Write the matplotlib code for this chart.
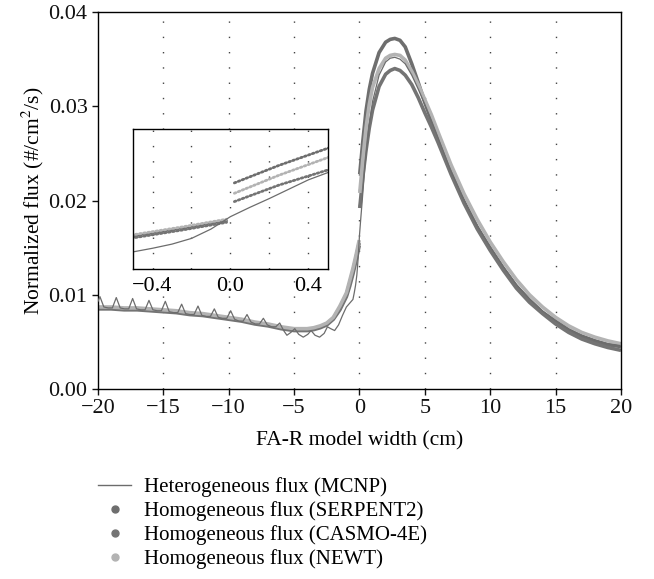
import matplotlib
matplotlib.use('Agg')
import matplotlib.pyplot as plt
from matplotlib.lines import Line2D
from matplotlib.ticker import FormatStrFormatter

plt.rcParams['font.family'] = ['Liberation Serif', 'DejaVu Serif']
plt.rcParams['mathtext.fontset'] = 'stix'

# homogeneous fluxes, fuel side (x < 0)
x_hom_left = [-20, -19, -18, -17, -16, -15, -14, -13, -12, -11, -10, -9, -8, -7, -6, -5,
              -4.5, -4, -3.5, -3, -2.5, -2, -1.5, -1, -0.75, -0.5, -0.25, -0.02]
serpent_left = [.0086, .0086, .0085, .0085, .0084, .0083, .0082, .0080, .0079, .0077, .0075, .0073, .0070, .0068,
                .0065, .0063, .0063, .0063, .0064, .0066, .0069, .0075, .0086, .0100, .0112, .0125, .0140, .0155]
casmo_left = [.0085, .0085, .0084, .0084, .0083, .0082, .0081, .0079, .0078, .0076, .0074, .0072, .0069, .0067,
              .0064, .0062, .0062, .0062, .0063, .0065, .0068, .0074, .0084, .0098, .0109, .0122, .0137, .0152]
newt_left = [.0087, .0087, .0086, .0086, .0085, .0084, .0083, .0081, .0080, .0078, .0076, .0074, .0071, .0069,
             .0066, .0064, .0064, .0064, .0065, .0067, .0070, .0076, .0088, .0102, .0115, .0128, .0143, .0158]

# homogeneous fluxes, reflector side (x > 0)
x_hom_right = [0.02, 0.25, 0.5, 0.75, 1, 1.5, 2, 2.35, 2.7, 3.1, 3.5, 4, 4.5, 5, 5.5, 6,
               7, 8, 9, 10, 11, 12, 13, 14, 15, 16, 17, 18, 19, 20]
serpent_right = [.0228, .0262, .0295, .0318, .0335, .0357, .0368, .0371, .0372, .0370, .0363, .0345, .0325,
                 .0304, .0285, .0267, .0231, .0199, .0172, .0149, .0128, .0109, .0094, .0081, .0071, .0062,
                 .0056, .0051, .0047, .0045]
casmo_right = [.0192, .0224, .0253, .0277, .0296, .0321, .0334, .0338, .0340, .0338, .0333, .0323, .0309,
               .0293, .0278, .0262, .0228, .0197, .0170, .0147, .0126, .0107, .0092, .0080, .0069, .0060,
               .0053, .0048, .0044, .0041]
newt_right = [.0208, .0243, .0277, .0302, .0320, .0340, .0351, .0354, .0355, .0354, .0349, .0337, .0323,
              .0307, .0291, .0273, .0238, .0207, .0180, .0156, .0135, .0116, .0100, .0087, .0076, .0067,
              .0060, .0055, .0051, .0048]

# heterogeneous MCNP flux
mcnp_x = [-20.0, -19.85, -19.55, -19.22, -18.9, -18.6, -18.3, -17.97, -17.65, -17.35, -17.05, -16.72, -16.4,
          -16.1, -15.8, -15.47, -15.15, -14.85, -14.55, -14.22, -13.9, -13.6, -13.3, -12.97, -12.65, -12.35,
          -12.05, -11.72, -11.4, -11.1, -10.8, -10.47, -10.15, -9.85, -9.55, -9.22, -8.9, -8.6, -8.3, -7.97,
          -7.65, -7.35, -7.05, -6.72, -6.4, -6.1, -5.8, -5.55, -5.25, -4.95, -4.65, -4.3, -3.95, -3.7, -3.4,
          -3.05, -2.7, -2.45, -2.2, -1.9, -1.6, -1.3, -1.0, -0.75, -0.5, -0.4, -0.3, -0.2, -0.1, 0.0, 0.1,
          0.2, 0.3, 0.4, 0.5, 0.75, 1.0, 1.5, 2.0, 2.35, 2.7, 3.1, 3.5, 4, 4.5, 5, 5.5, 6, 7, 8, 9, 10, 11,
          12, 13, 14, 15, 16, 17, 18, 19, 20]
mcnp_flux = [.0093, .0098, .0087, .0086, .0086, .0097, .0086, .0085, .0085, .0096, .0085, .0084, .0084,
             .0094, .0084, .0083, .0083, .0093, .0082, .0081, .0081, .0090, .0080, .0079, .0079, .0088,
             .0078, .0077, .0077, .0085, .0076, .0075, .0075, .0083, .0074, .0072, .0072, .0079, .0071, .0069,
             .0069, .0075, .0068, .0066, .0066, .0070, .0062, .0057, .0060, .0064, .0058, .0055, .0058, .0062,
             .0057, .0055, .0059, .0066, .0064, .0062, .0068, .0078, .0087, .0091, .0095, .0102, .0110, .0121,
             .0139, .0163, .0181, .0198, .0216, .0234, .0248, .0280, .0305, .0333, .0347, .0351, .0352, .0350,
             .0345, .0333, .0318, .0302, .0285, .0267, .0231, .0200, .0173, .0151, .0130, .0111, .0096, .0083,
             .0073, .0064, .0057, .0052, .0048, .0046]

labels = ['Heterogeneous flux (MCNP)', 'Homogeneous flux (SERPENT2)',
          'Homogeneous flux (CASMO-4E)', 'Homogeneous flux (NEWT)']
c_mcnp = '#6c6c6c'
c_serp = '#6e6e6e'
c_casmo = '#747474'
c_newt = '#b3b3b3'

fig = plt.figure(figsize=(6.54, 5.79), dpi=100)
ax = fig.add_axes([0.1498, 0.3282, 0.7997, 0.651])

series = [(serpent_left, serpent_right, c_serp), (casmo_left, casmo_right, c_casmo),
          (newt_left, newt_right, c_newt)]
for yl, yr, c in series:
    ax.plot(x_hom_left, yl, color=c, lw=2.6, solid_capstyle='butt', solid_joinstyle='round', zorder=2)
    ax.plot(x_hom_right, yr, color=c, lw=2.6, solid_capstyle='butt', solid_joinstyle='round', zorder=2)
ax.plot(mcnp_x, mcnp_flux, color=c_mcnp, lw=0.9, zorder=3)

ax.set_xlim(-20, 20)
ax.set_ylim(0, 0.04)
ax.set_xticks(range(-20, 21, 5))
ax.set_yticks([0, 0.01, 0.02, 0.03, 0.04])
ax.yaxis.set_major_formatter(FormatStrFormatter('%.2f'))
ax.tick_params(direction='out', length=4, width=1, labelsize=16, colors='#111111')
for x in range(-15, 16, 5):
    ax.axvline(x, color='#444444', lw=1, ls=(0, (1, 10)), zorder=0)
for s in ax.spines.values():
    s.set_linewidth(1)
ax.set_xlabel('FA-R model width (cm)', fontsize=15.5, labelpad=9)
ax.set_ylabel('Normalized flux (#/cm$^2$/s)', fontsize=15.5, labelpad=2)

# inset around the interface
axins = fig.add_axes([0.2034, 0.5354, 0.298, 0.2418])
for yl, yr, c in series:
    axins.plot(x_hom_left, yl, color=c, lw=2, ls=(0, (0.6, 0.9)), dash_capstyle='round')
    axins.plot(x_hom_right, yr, color=c, lw=2, ls=(0, (0.6, 0.9)), dash_capstyle='round')
axins.plot(mcnp_x, mcnp_flux, color=c_mcnp, lw=0.9)
axins.set_xlim(-0.5, 0.5)
axins.set_ylim(0.0062, 0.0332)
axins.set_yticks([])
axins.set_xticks([-0.4, 0.0, 0.4])
axins.set_xticklabels(['\u22120.4', '0.0', '0.4'])
axins.set_xticks([-0.2, 0.2], minor=True)
axins.tick_params(which='both', length=0, labelsize=16, pad=6)
axins.grid(True, axis='x', which='both', color='#444444', lw=1, ls=(0, (1, 10)))
for s in axins.spines.values():
    s.set_linewidth(1)

handles = [Line2D([], [], color=c_mcnp, lw=1),
           Line2D([], [], ls='none', marker='o', ms=5, color=c_serp),
           Line2D([], [], ls='none', marker='o', ms=5, color=c_casmo),
           Line2D([], [], ls='none', marker='o', ms=5, color=c_newt)]
fig.legend(handles, labels, loc='upper left', bbox_to_anchor=(0.15, 0.176), frameon=False,
           fontsize=15, handlelength=1.6, handletextpad=0.6, labelspacing=0.2,
           borderpad=0, borderaxespad=0)

fig.savefig('out.png', dpi=100)
